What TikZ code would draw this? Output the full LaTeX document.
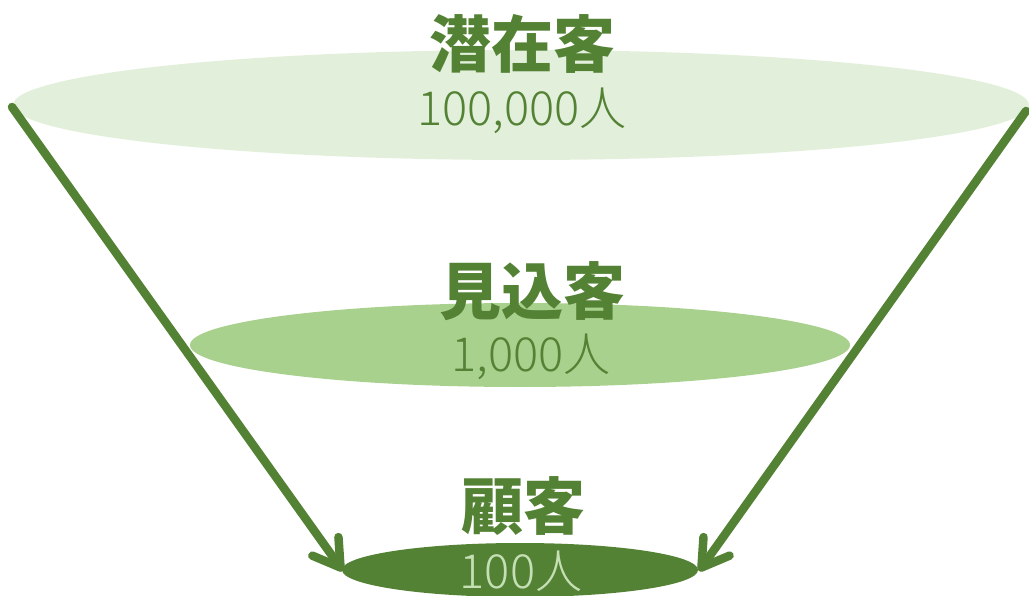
\documentclass[tikz,border=0pt]{standalone}
\usepackage{fontspec}
\setmainfont{Noto Sans CJK JP}
\newfontfamily\lightjp{Noto Sans CJK JP Light}
\usetikzlibrary{arrows.meta,shapes.geometric}
\definecolor{dg}{HTML}{548235}
\definecolor{c1}{HTML}{E2EFDA}
\definecolor{c2}{HTML}{A9D18E}
\definecolor{c3}{HTML}{C5E0B4}
\tikzset{
  layer/.style={ellipse, inner sep=0pt, draw=none},
  title/.style={text=dg, font=\fontsize{62}{70}\selectfont\bfseries, inner sep=0pt},
  count/.style={text=dg, font=\fontsize{47}{52}\selectfont\lightjp, inner sep=0pt},
  flow/.style={draw=dg, line width=8.5pt, line cap=round, -{Straight Barb[length=26pt,width=32pt,round]}}
}
\begin{document}
\begin{tikzpicture}[x=1pt,y=-1pt]
\useasboundingbox (0,0) rectangle (1029,596);
\node[layer, fill=c1, minimum width=1016pt, minimum height=110pt] (top) at (521,105) {};
\node[layer, fill=c2, minimum width=660pt, minimum height=84pt] (mid) at (520,345) {};
\node[layer, fill=dg, minimum width=356pt, minimum height=54pt] (bot) at (520,570) {};
\node[title] (t1) at (522,44) {潜在客};
\node[count] (n1) at (522,111) {100,000人};
\node[title] (t2) at (532,291) {見込客};
\node[count] (n2) at (531,357) {1,000人};
\node[title] (t3) at (523,506) {顧客};
\node[count, text=c3] (n3) at (521,571) {100人};
\coordinate (s1) at (12,107);
\coordinate (s2) at (1026,111);
\coordinate (e1) at (343,571);
\coordinate (e2) at (699,571);
\draw[flow] (s1) -- (e1);
\draw[flow] (s2) -- (e2);
\end{tikzpicture}
\end{document}
